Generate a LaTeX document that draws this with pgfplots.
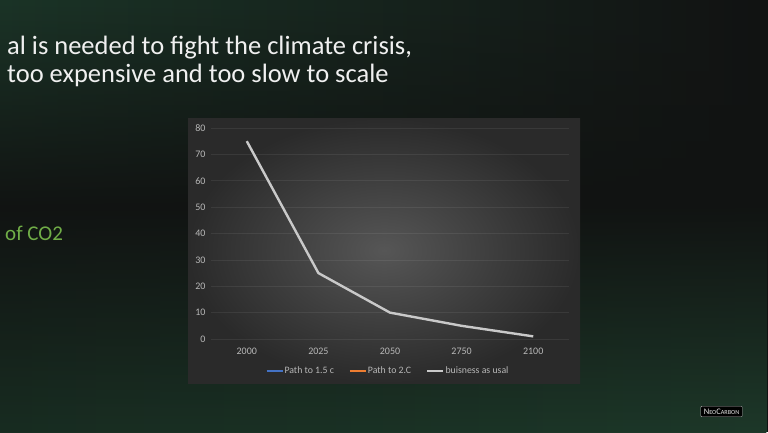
\documentclass[border=0pt]{standalone}
\usepackage{pgfplots}
\pgfplotsset{compat=1.18}
\usepackage{fontspec}
\setmainfont{Carlito}
\usetikzlibrary{fadings}
\definecolor{bgmid}{HTML}{111312}
\definecolor{bgtl}{HTML}{1B3427}
\definecolor{bgtr}{HTML}{121313}
\definecolor{bgbl}{HTML}{182C21}
\definecolor{bgbr}{HTML}{1D3829}
\definecolor{panin}{HTML}{565656}
\definecolor{panout}{HTML}{2A2A2A}
\definecolor{ticktxt}{HTML}{B8B8B8}
\definecolor{lgray}{HTML}{C9C9C9}
\definecolor{pblue}{HTML}{4472C4}
\definecolor{porange}{HTML}{ED7D31}
\definecolor{cogreen}{HTML}{70AD47}
\begin{document}
\begin{tikzpicture}[x=1pt,y=1pt]
\useasboundingbox (0,0) rectangle (768,432);
\fill[bgmid] (0,0) rectangle (768,432);
\shade[left color=bgtl, right color=bgtr, path fading=south] (0,222) rectangle (768,432);
\shade[left color=bgbl, right color=bgbr, path fading=north] (0,0) rectangle (768,230);
\shade[inner color=panin, outer color=panout] (188,49) rectangle (580,314);
\node[anchor=base west, text=white!94!black, font=\fontsize{26.5}{26.5}\selectfont, inner sep=0pt] at (7,377) {al is needed to fight the climate crisis,};
\node[anchor=base west, text=white!94!black, font=\fontsize{26.5}{26.5}\selectfont, inner sep=0pt] at (7,349) {too expensive and too slow to scale};
\node[anchor=base west, text=cogreen, font=\fontsize{21}{21}\selectfont, inner sep=0pt] at (5,192) {of CO2};
\node[fill=black, draw=gray!60, line width=0.4pt, rounded corners=1pt, text=white!90!black, inner xsep=3pt, inner ysep=2.5pt, font=\fontsize{8.5}{8.5}\selectfont] at (721.5,20.5) {N{\fontsize{6.2}{6.2}\selectfont EO}C{\fontsize{6.2}{6.2}\selectfont ARBON}};
\begin{axis}[
  at={(211pt,93pt)}, anchor=south west,
  scale only axis, width=358pt, height=211pt,
  xmin=-0.5, xmax=4.5, ymin=0, ymax=80,
  xtick={0,1,2,3,4}, xticklabels={2000,2025,2050,2750,2100},
  ytick={0,10,...,80},
  axis line style={draw=none},
  major tick length=0pt,
  ymajorgrids, grid style={white, opacity=0.07, line width=0.6pt},
  tick label style={text=ticktxt, font=\fontsize{10}{10}\selectfont},
  /pgf/number format/assume math mode=true,
  xticklabel style={yshift=-5pt},
  yticklabel style={xshift=-2pt},
  clip=false,
  legend style={at={(0.493,-0.152)}, anchor=center, draw=none, fill=none,
    text=ticktxt, font=\fontsize{9.8}{9.8}\selectfont, legend columns=3,
    /tikz/every odd column/.append style={column sep=0pt},
    /tikz/every even column/.append style={column sep=14pt},
    nodes={inner xsep=1pt}},
  legend image code/.code={\draw[#1] (0pt,0pt) -- (16pt,0pt);},
  legend cell align=left,
]
\addlegendimage{color=pblue, line width=2pt}
\addlegendentry{Path to 1.5 c}
\addlegendimage{color=porange, line width=2pt}
\addlegendentry{Path to 2.C}
\addplot[color=lgray, line width=2.4pt, line join=round] coordinates {(0,75) (1,25) (2,10) (3,5) (4,1)};
\addlegendentry{buisness as usal}
\end{axis}
\end{tikzpicture}
\end{document}
